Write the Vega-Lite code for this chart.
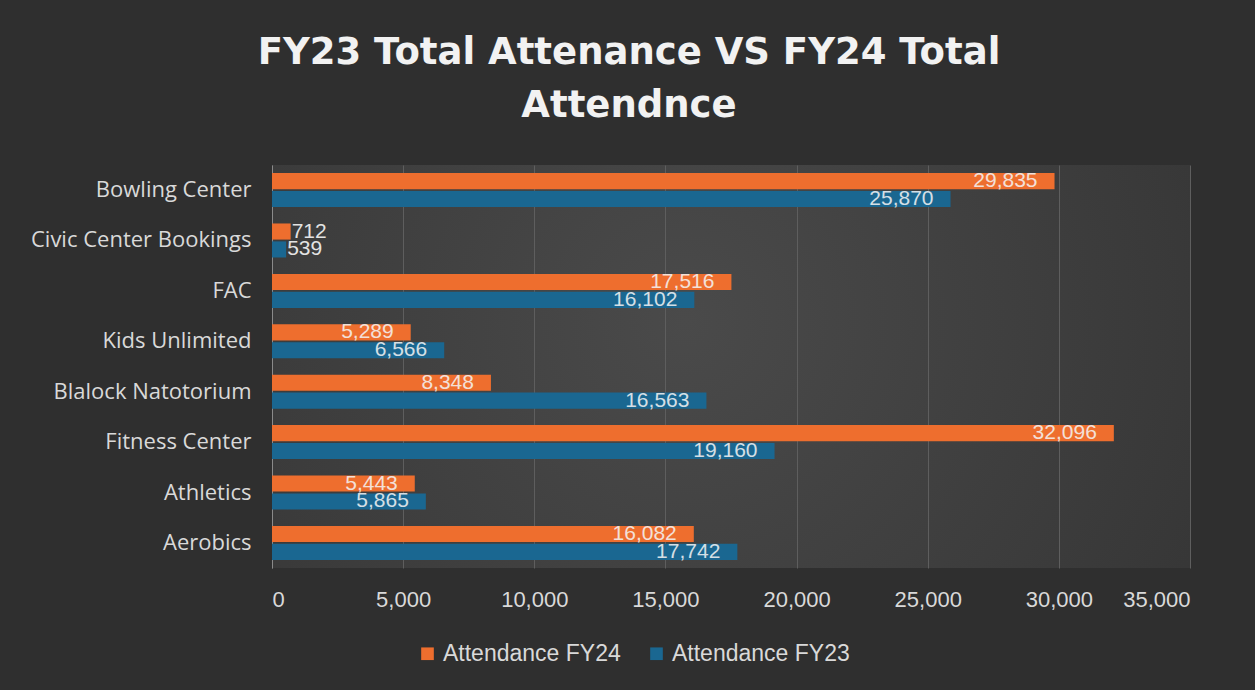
{
  "$schema": "https://vega.github.io/schema/vega-lite/v6.json",
  "width": 918,
  "height": 403,
  "autosize": {"type": "none"},
  "padding": {"left": 272, "top": 165, "right": 65, "bottom": 122},
  "background": "#2f2f2f",
  "title": {
    "text": ["FY23 Total Attenance VS FY24 Total", "Attendnce"],
    "font": "DejaVu Sans",
    "fontSize": 37,
    "fontWeight": "bold",
    "color": "#f2f2f2",
    "lineHeight": 53,
    "anchor": "middle",
    "dx": -102,
    "offset": 40
  },
  "data": {
    "values": [
      {"facility": "Bowling Center", "series": "Attendance FY24", "value": 29835},
      {"facility": "Bowling Center", "series": "Attendance FY23", "value": 25870},
      {"facility": "Civic Center Bookings", "series": "Attendance FY24", "value": 712},
      {"facility": "Civic Center Bookings", "series": "Attendance FY23", "value": 539},
      {"facility": "FAC", "series": "Attendance FY24", "value": 17516},
      {"facility": "FAC", "series": "Attendance FY23", "value": 16102},
      {"facility": "Kids Unlimited", "series": "Attendance FY24", "value": 5289},
      {"facility": "Kids Unlimited", "series": "Attendance FY23", "value": 6566},
      {"facility": "Blalock Natotorium", "series": "Attendance FY24", "value": 8348},
      {"facility": "Blalock Natotorium", "series": "Attendance FY23", "value": 16563},
      {"facility": "Fitness Center", "series": "Attendance FY24", "value": 32096},
      {"facility": "Fitness Center", "series": "Attendance FY23", "value": 19160},
      {"facility": "Athletics", "series": "Attendance FY24", "value": 5443},
      {"facility": "Athletics", "series": "Attendance FY23", "value": 5865},
      {"facility": "Aerobics", "series": "Attendance FY24", "value": 16082},
      {"facility": "Aerobics", "series": "Attendance FY23", "value": 17742}
    ]
  },
  "encoding": {
    "y": {
      "field": "facility",
      "type": "nominal",
      "sort": null,
      "scale": {"paddingInner": 0.325, "paddingOuter": 0.16},
      "axis": {
        "title": null,
        "domain": true,
        "domainColor": "#8a8a8a",
        "domainWidth": 1,
        "ticks": false,
        "grid": false,
        "labelFont": "Open Sans",
        "labelFontSize": 22,
        "labelColor": "#d9d9d9",
        "labelPadding": 21,
        "labelLimit": 400
      }
    },
    "x": {
      "field": "value",
      "type": "quantitative",
      "scale": {"domain": [0, 35000]},
      "axis": {
        "title": null,
        "domain": false,
        "ticks": false,
        "grid": true,
        "gridColor": "#5e5e5e",
        "gridWidth": 1,
        "values": [0, 5000, 10000, 15000, 20000, 25000, 30000, 35000],
        "format": ",d",
        "labelFont": "Liberation Sans",
        "labelFontSize": 22,
        "labelColor": "#d9d9d9",
        "labelPadding": 21
      }
    },
    "yOffset": {
      "field": "series",
      "type": "nominal",
      "sort": ["Attendance FY24", "Attendance FY23"],
      "scale": {"paddingInner": 0.1}
    }
  },
  "layer": [
    {
      "mark": {"type": "bar"},
      "encoding": {
        "color": {
          "field": "series",
          "type": "nominal",
          "sort": ["Attendance FY24", "Attendance FY23"],
          "scale": {"domain": ["Attendance FY24", "Attendance FY23"], "range": ["#EE6E2E", "#1A6791"]},
          "legend": {
            "title": null,
            "orient": "none",
            "legendX": 144,
            "legendY": 477,
            "direction": "horizontal",
            "symbolType": "square",
            "symbolSize": 160,
            "symbolStrokeWidth": 0,
            "labelFont": "Liberation Sans",
            "labelFontSize": 23,
            "labelColor": "#d9d9d9",
            "columnPadding": 24,
            "labelOffset": 4,
            "labelLimit": 300
          }
        }
      }
    },
    {
      "transform": [{"filter": "datum.value >= 3000"}],
      "mark": {"type": "text", "align": "right", "baseline": "middle", "dx": -17, "font": "Liberation Sans", "fontSize": 21, "color": "#f5f5f5", "opacity": 0.85},
      "encoding": {"text": {"field": "value", "type": "quantitative", "format": ","}}
    },
    {
      "transform": [{"filter": "datum.value < 3000"}],
      "mark": {"type": "text", "align": "left", "baseline": "middle", "dx": 1, "font": "Liberation Sans", "fontSize": 21, "color": "#f5f5f5", "opacity": 0.9},
      "encoding": {"text": {"field": "value", "type": "quantitative", "format": ","}}
    }
  ],
  "config": {
    "view": {
      "stroke": null,
      "fill": {
        "gradient": "radial",
        "x1": 0.45, "y1": 0.45, "r1": 0,
        "x2": 0.45, "y2": 0.45, "r2": 0.8,
        "stops": [
          {"offset": 0, "color": "#4a4a4a"},
          {"offset": 1, "color": "#313131"}
        ]
      }
    }
  }
}
